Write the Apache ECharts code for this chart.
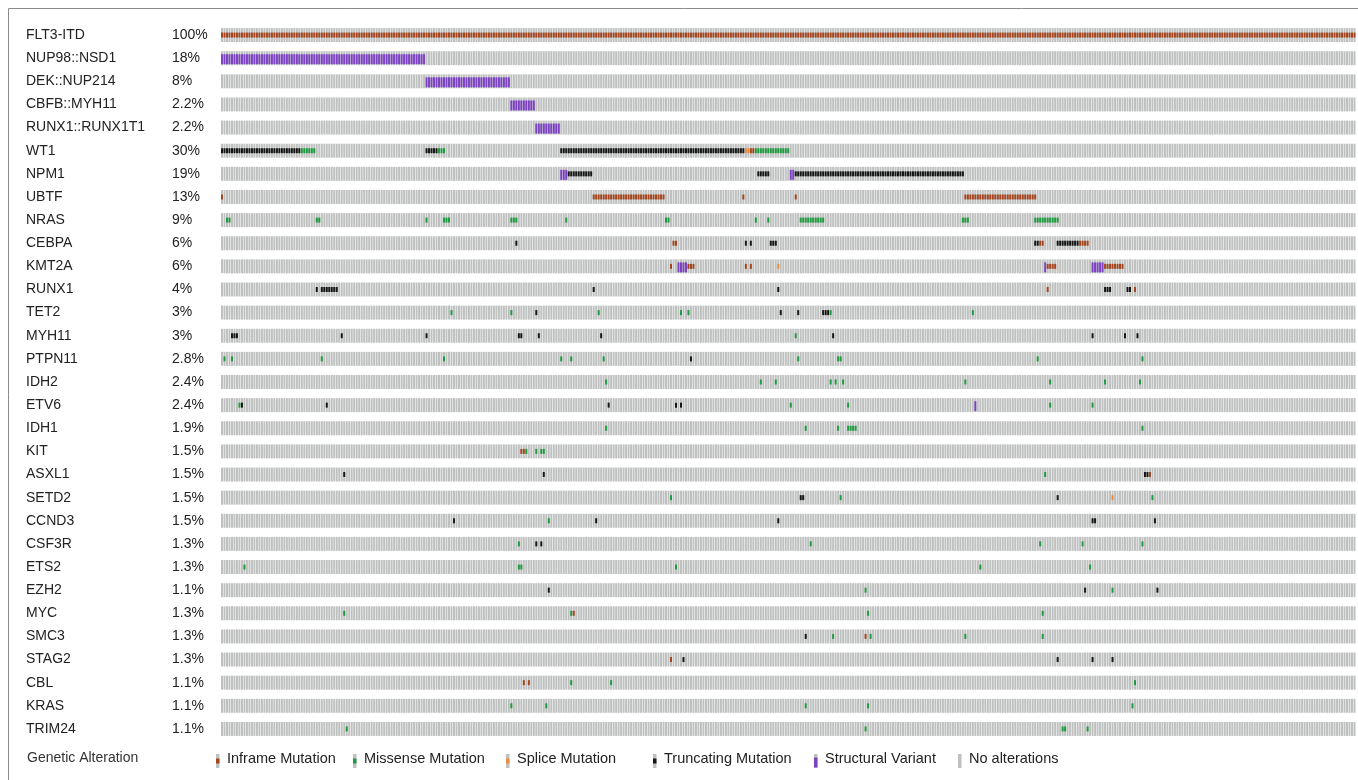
<!DOCTYPE html>
<html>
<head>
<meta charset="utf-8">
<script src="https://cdn.jsdelivr.net/npm/echarts@6/dist/echarts.min.js"></script>
<style>
  html, body { margin: 0; padding: 0; background: #fff; }
  #chart { width: 1358px; height: 780px; }
</style>
</head>
<body>
<div id="chart"></div>
<script>
// oncoprint of a FLT3-ITD cohort, one column per sample
const sampleCount = 455

const genes = ['FLT3-ITD', 'NUP98::NSD1', 'DEK::NUP214', 'CBFB::MYH11', 'RUNX1::RUNX1T1', 'WT1', 'NPM1', 'UBTF',
  'NRAS', 'CEBPA', 'KMT2A', 'RUNX1', 'TET2', 'MYH11', 'PTPN11', 'IDH2', 'ETV6', 'IDH1', 'KIT', 'ASXL1',
  'SETD2', 'CCND3', 'CSF3R', 'ETS2', 'EZH2', 'MYC', 'SMC3', 'STAG2', 'CBL', 'KRAS', 'TRIM24']

const pcts = ['100%', '18%', '8%', '2.2%', '2.2%', '30%', '19%', '13%', '9%', '6%', '6%', '4%', '3%', '3%', '2.8%',
  '2.4%', '2.4%', '1.9%', '1.5%', '1.5%', '1.5%', '1.5%', '1.3%', '1.3%', '1.1%', '1.3%', '1.3%', '1.3%', '1.1%', '1.1%', '1.1%']

// alteration types: I inframe, M missense, S splice, T truncating, V structural variant
const typeNames = { I: 'Inframe Mutation', M: 'Missense Mutation', S: 'Splice Mutation', T: 'Truncating Mutation', V: 'Structural Variant' }
const typeColors = { I: '#a3461f', M: '#1f9a3e', S: '#ee8a3c', T: '#161616', V: '#7c42c2' }

// runs of altered samples: [gene, firstSample, lastSample, type]
const runs = [
  ['FLT3-ITD', 0, 454, 'I'],
  ['NUP98::NSD1', 0, 81, 'V'],
  ['DEK::NUP214', 82, 115, 'V'],
  ['CBFB::MYH11', 116, 125, 'V'],
  ['RUNX1::RUNX1T1', 126, 135, 'V'],
  ['WT1', 0, 31, 'T'], ['WT1', 32, 37, 'M'], ['WT1', 82, 86, 'T'], ['WT1', 87, 89, 'M'],
  ['WT1', 136, 209, 'T'], ['WT1', 210, 211, 'S'], ['WT1', 212, 213, 'I'], ['WT1', 214, 227, 'M'],
  ['NPM1', 136, 138, 'V'], ['NPM1', 139, 148, 'T'], ['NPM1', 215, 219, 'T'], ['NPM1', 228, 229, 'V'], ['NPM1', 230, 297, 'T'],
  ['UBTF', 0, 0, 'I'], ['UBTF', 149, 177, 'I'], ['UBTF', 209, 209, 'I'], ['UBTF', 230, 230, 'I'], ['UBTF', 298, 326, 'I'],
  ['NRAS', 2, 3, 'M'], ['NRAS', 38, 39, 'M'], ['NRAS', 82, 82, 'M'], ['NRAS', 89, 91, 'M'], ['NRAS', 116, 118, 'M'],
  ['NRAS', 138, 138, 'M'], ['NRAS', 178, 179, 'M'], ['NRAS', 214, 214, 'M'], ['NRAS', 219, 219, 'M'],
  ['NRAS', 232, 241, 'M'], ['NRAS', 297, 299, 'M'], ['NRAS', 326, 335, 'M'],
  ['CEBPA', 118, 118, 'T'], ['CEBPA', 181, 182, 'I'], ['CEBPA', 210, 210, 'T'], ['CEBPA', 212, 212, 'T'],
  ['CEBPA', 220, 222, 'T'], ['CEBPA', 326, 327, 'T'], ['CEBPA', 328, 329, 'I'], ['CEBPA', 335, 343, 'T'], ['CEBPA', 344, 347, 'I'],
  ['KMT2A', 180, 180, 'I'], ['KMT2A', 183, 186, 'V'], ['KMT2A', 187, 189, 'I'], ['KMT2A', 210, 210, 'I'], ['KMT2A', 212, 212, 'I'],
  ['KMT2A', 223, 223, 'S'], ['KMT2A', 330, 330, 'V'], ['KMT2A', 331, 334, 'I'], ['KMT2A', 349, 353, 'V'], ['KMT2A', 354, 361, 'I'],
  ['RUNX1', 38, 38, 'T'], ['RUNX1', 40, 46, 'T'], ['RUNX1', 149, 149, 'T'], ['RUNX1', 223, 223, 'T'], ['RUNX1', 331, 331, 'I'],
  ['RUNX1', 354, 356, 'T'], ['RUNX1', 363, 364, 'T'], ['RUNX1', 366, 366, 'I'],
  ['TET2', 92, 92, 'M'], ['TET2', 116, 116, 'M'], ['TET2', 126, 126, 'T'], ['TET2', 151, 151, 'M'], ['TET2', 184, 184, 'M'],
  ['TET2', 187, 187, 'M'], ['TET2', 224, 224, 'T'], ['TET2', 231, 231, 'T'], ['TET2', 241, 243, 'T'], ['TET2', 244, 244, 'M'], ['TET2', 301, 301, 'M'],
  ['MYH11', 4, 6, 'T'], ['MYH11', 48, 48, 'T'], ['MYH11', 82, 82, 'T'], ['MYH11', 119, 120, 'T'], ['MYH11', 127, 127, 'T'],
  ['MYH11', 152, 152, 'T'], ['MYH11', 230, 230, 'M'], ['MYH11', 245, 245, 'T'], ['MYH11', 349, 349, 'T'], ['MYH11', 362, 362, 'T'], ['MYH11', 367, 367, 'T'],
  ['PTPN11', 1, 1, 'M'], ['PTPN11', 4, 4, 'M'], ['PTPN11', 40, 40, 'M'], ['PTPN11', 89, 89, 'M'], ['PTPN11', 136, 136, 'M'],
  ['PTPN11', 140, 140, 'M'], ['PTPN11', 153, 153, 'M'], ['PTPN11', 188, 188, 'T'], ['PTPN11', 231, 231, 'M'], ['PTPN11', 247, 248, 'M'],
  ['PTPN11', 327, 327, 'M'], ['PTPN11', 369, 369, 'M'],
  ['IDH2', 154, 154, 'M'], ['IDH2', 216, 216, 'M'], ['IDH2', 222, 222, 'M'], ['IDH2', 244, 244, 'M'], ['IDH2', 246, 246, 'M'],
  ['IDH2', 249, 249, 'M'], ['IDH2', 298, 298, 'M'], ['IDH2', 332, 332, 'M'], ['IDH2', 354, 354, 'M'], ['IDH2', 368, 368, 'M'],
  ['ETV6', 7, 7, 'M'], ['ETV6', 8, 8, 'T'], ['ETV6', 42, 42, 'T'], ['ETV6', 155, 155, 'T'], ['ETV6', 182, 182, 'T'], ['ETV6', 184, 184, 'T'],
  ['ETV6', 228, 228, 'M'], ['ETV6', 251, 251, 'M'], ['ETV6', 302, 302, 'V'], ['ETV6', 332, 332, 'M'], ['ETV6', 349, 349, 'M'],
  ['IDH1', 154, 154, 'M'], ['IDH1', 234, 234, 'M'], ['IDH1', 247, 247, 'M'], ['IDH1', 251, 254, 'M'], ['IDH1', 369, 369, 'M'],
  ['KIT', 120, 121, 'I'], ['KIT', 122, 122, 'M'], ['KIT', 126, 126, 'M'], ['KIT', 128, 129, 'M'],
  ['ASXL1', 49, 49, 'T'], ['ASXL1', 129, 129, 'T'], ['ASXL1', 330, 330, 'M'], ['ASXL1', 370, 371, 'T'], ['ASXL1', 372, 372, 'I'],
  ['SETD2', 180, 180, 'M'], ['SETD2', 232, 233, 'T'], ['SETD2', 248, 248, 'M'], ['SETD2', 335, 335, 'T'], ['SETD2', 357, 357, 'S'], ['SETD2', 373, 373, 'M'],
  ['CCND3', 93, 93, 'T'], ['CCND3', 131, 131, 'M'], ['CCND3', 150, 150, 'T'], ['CCND3', 223, 223, 'T'], ['CCND3', 349, 350, 'T'], ['CCND3', 374, 374, 'T'],
  ['CSF3R', 119, 119, 'M'], ['CSF3R', 126, 126, 'T'], ['CSF3R', 128, 128, 'T'], ['CSF3R', 236, 236, 'M'], ['CSF3R', 328, 328, 'M'],
  ['CSF3R', 345, 345, 'M'], ['CSF3R', 369, 369, 'M'],
  ['ETS2', 9, 9, 'M'], ['ETS2', 119, 119, 'M'], ['ETS2', 120, 120, 'M'], ['ETS2', 182, 182, 'M'], ['ETS2', 304, 304, 'M'], ['ETS2', 348, 348, 'M'],
  ['EZH2', 131, 131, 'T'], ['EZH2', 258, 258, 'M'], ['EZH2', 346, 346, 'T'], ['EZH2', 357, 357, 'M'], ['EZH2', 375, 375, 'T'],
  ['MYC', 49, 49, 'M'], ['MYC', 140, 140, 'M'], ['MYC', 141, 141, 'I'], ['MYC', 259, 259, 'M'], ['MYC', 329, 329, 'M'],
  ['SMC3', 234, 234, 'T'], ['SMC3', 245, 245, 'M'], ['SMC3', 258, 258, 'I'], ['SMC3', 260, 260, 'M'], ['SMC3', 298, 298, 'M'], ['SMC3', 329, 329, 'M'],
  ['STAG2', 180, 180, 'I'], ['STAG2', 185, 185, 'T'], ['STAG2', 335, 335, 'T'], ['STAG2', 349, 349, 'T'], ['STAG2', 357, 357, 'T'],
  ['CBL', 121, 121, 'I'], ['CBL', 123, 123, 'I'], ['CBL', 140, 140, 'M'], ['CBL', 156, 156, 'M'], ['CBL', 366, 366, 'M'],
  ['KRAS', 116, 116, 'M'], ['KRAS', 130, 130, 'M'], ['KRAS', 234, 234, 'M'], ['KRAS', 259, 259, 'M'], ['KRAS', 365, 365, 'M'],
  ['TRIM24', 50, 50, 'M'], ['TRIM24', 258, 258, 'M'], ['TRIM24', 337, 338, 'M'], ['TRIM24', 347, 347, 'M']
]

// build cell lists from the runs
const bgCells = []
genes.forEach((g, gi) => {
  for (let s = 0; s < sampleCount; s++) bgCells.push([s, gi])
})
const altCells = []
runs.forEach(([g, a, b, t]) => {
  const gi = genes.indexOf(g)
  for (let s = a; s <= b; s++) altCells.push([s, gi, t])
})

const FONT = '"Liberation Sans", Arial, sans-serif'
const chart = echarts.init(document.getElementById('chart'))

function renderBg(params, api) {
  const p = api.coord([api.value(0), api.value(1)])
  const w = api.size([1, 0])[0]
  const h = 14
  return {
    type: 'rect',
    shape: { x: p[0] - w / 2, y: p[1] - h / 2, width: w * 0.8, height: h },
    style: { fill: '#bfc1c1' }
  }
}

function renderAlt(params, api) {
  const p = api.coord([api.value(0), api.value(1)])
  const w = api.size([1, 0])[0]
  const t = altCells[params.dataIndex][2]
  const h = t === 'V' ? 10 : 5
  return {
    type: 'rect',
    shape: { x: p[0] - w / 2, y: p[1] - h / 2 + (t === 'V' ? 1 : 0), width: w * 0.8, height: h },
    style: { fill: typeColors[t] }
  }
}

// legend drawn as graphic: grey cell with coloured middle
const legendItems = [
  { x: 216, t: 'I' }, { x: 353, t: 'M' }, { x: 506, t: 'S' },
  { x: 653, t: 'T' }, { x: 814, t: 'V' }, { x: 958, t: null }
]
const legendY = 760
const legendGraphic = [
  { type: 'text', x: 27, y: legendY - 9, style: { text: 'Genetic Alteration', font: '14px ' + FONT, fill: '#333' } }
]
legendItems.forEach(li => {
  legendGraphic.push({ type: 'rect', shape: { x: li.x, y: legendY - 6, width: 3.5, height: 14 }, style: { fill: '#bfc1c1' } })
  if (li.t) {
    const h = li.t === 'V' ? 10 : 5
    legendGraphic.push({ type: 'rect', shape: { x: li.x, y: legendY + 1 - h / 2 + (li.t === 'V' ? 1.5 : 0), width: 3.5, height: h }, style: { fill: typeColors[li.t] } })
  }
  legendGraphic.push({
    type: 'text', x: li.x + 11, y: legendY - 9,
    style: { text: li.t ? typeNames[li.t] : 'No alterations', font: '14.5px ' + FONT, fill: '#222' }
  })
})
legendGraphic.push({
  type: 'rect', shape: { x: 8.5, y: 8.5, width: 1400, height: 800 },
  style: { fill: 'none', stroke: '#8a8a8a', lineWidth: 1 }
})

const option = {
  animation: false,
  grid: { left: 221, right: 2, top: 23.5, height: 717 },
  xAxis: {
    type: 'value', min: -0.5, max: sampleCount - 0.5,
    show: false
  },
  yAxis: {
    type: 'category',
    data: genes,
    inverse: true,
    axisLine: { show: false },
    axisTick: { show: false },
    splitLine: { show: false },
    axisLabel: {
      align: 'left',
      margin: 195,
      formatter: (v, i) => `{g|${v}}{p|${pcts[i]}}`,
      rich: {
        g: { width: 146, fontSize: 14, fontFamily: FONT, color: '#222' },
        p: { fontSize: 14, fontFamily: FONT, color: '#222' }
      }
    }
  },
  graphic: legendGraphic,
  series: [
    { type: 'custom', renderItem: renderBg, data: bgCells, silent: true },
    { type: 'custom', renderItem: renderAlt, data: altCells.map(c => [c[0], c[1]]), silent: true }
  ]
}

chart.setOption(option)
</script>
</body>
</html>
